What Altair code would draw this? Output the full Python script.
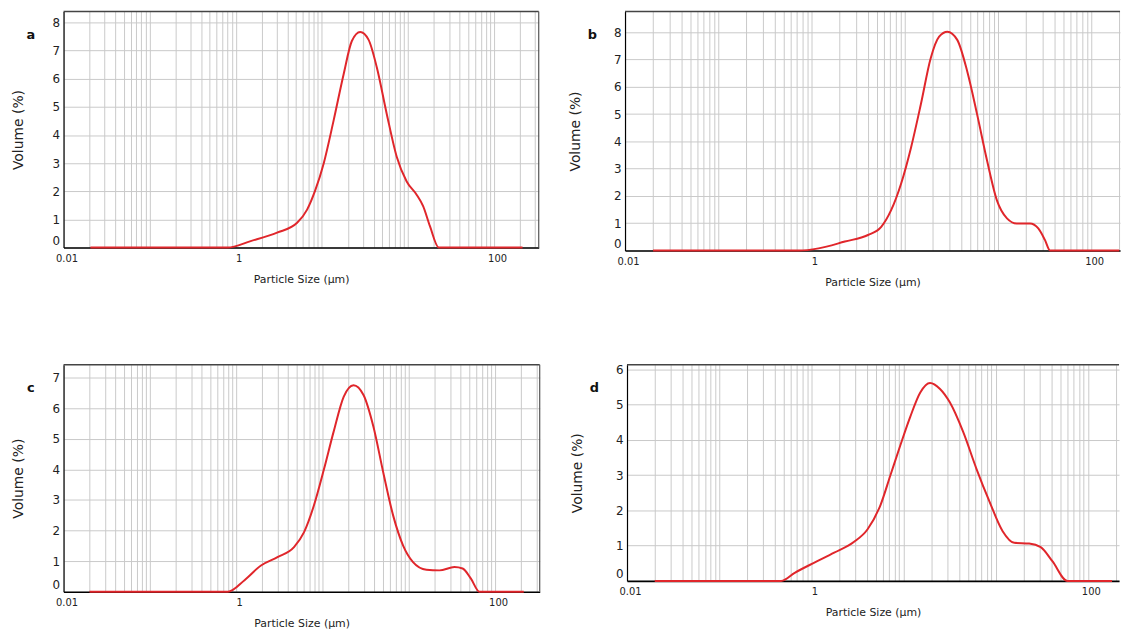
import altair as alt
import pandas as pd

# ---------------- data ----------------
panel_letters = ["a", "b", "c", "d"]

sizes_a = [0.0205, 0.80, 1.49, 3.02, 5.16, 6.74, 8.41, 10.5, 13.7, 17.9, 22.3, 27.9,
           34.8, 43.5, 56.7, 74.0, 96.6, 126, 150, 180, 228, 2140]
vol_a = [0, 0, 0.23, 0.53, 0.88, 1.35, 2.05, 2.99, 4.52, 6.16, 7.34, 7.66,
         7.39, 6.40, 4.75, 3.23, 2.35, 1.88, 1.47, 0.76, 0, 0]

sizes_b = [0.02, 0.73, 1.19, 2.28, 4.04, 5.60, 7.15, 9.14, 11.7, 14.9, 19.0, 23.4, 28.7,
           36.6, 46.8, 59.8, 76.4, 97.5, 125, 159, 221, 271, 319, 362, 2000]
vol_b = [0, 0, 0.08, 0.33, 0.57, 0.87, 1.48, 2.45, 3.78, 5.36, 7.05, 7.84, 8.02,
         7.72, 6.57, 4.99, 3.30, 1.84, 1.18, 0.99, 0.99, 0.81, 0.39, 0, 0]

sizes_c = [0.02, 0.80, 1.25, 1.94, 3.01, 4.68, 6.10, 7.94, 10.4, 13.5, 17.6, 22.9, 29.9,
           38.9, 50.7, 66.1, 86.0, 112, 160, 227, 338, 421, 525, 660, 2150]
vol_c = [0, 0, 0.38, 0.86, 1.13, 1.46, 1.94, 2.81, 4.0, 5.24, 6.37, 6.75, 6.43,
         5.40, 3.89, 2.48, 1.51, 0.97, 0.72, 0.70, 0.81, 0.76, 0.43, 0, 0]

sizes_d = [0.02, 0.47, 0.66, 1.08, 1.77, 2.91, 4.06, 5.64, 7.21, 9.24, 11.8, 15.2, 19.4,
           24.9, 31.8, 44.4, 61.7, 85.7, 119, 159, 231, 308, 412, 600, 1830]
vol_d = [0, 0, 0.23, 0.52, 0.80, 1.11, 1.46, 2.16, 3.0, 3.85, 4.65, 5.35, 5.62,
         5.45, 5.07, 4.23, 3.19, 2.25, 1.41, 1.08, 1.06, 0.96, 0.56, 0, 0]

# axis text as printed on the reference
x_tick_values = [0.01, 1, 1000]
x_tick_labels = ["0.01", "1", "100"]
x_title = "Particle Size (µm)"
y_title = "Volume (%)"

# per-panel axis extents
x_max = {"a": 3300, "b": 2040, "c": 3290, "d": 2180}
y_max = {"a": 8.39, "b": 8.76, "c": 7.42, "d": 6.14}
y_top_tick = {"a": 8, "b": 8, "c": 7, "d": 6}

# ---------------- styling / layout ----------------
LINE_COLOR = "#e0262b"
FONT = "DejaVu Sans"
sizes_w = {"a": 479, "b": 499, "c": 480, "d": 496}
sizes_h = {"a": 238, "b": 241, "c": 229, "d": 218}
title_pad = {"a": 27, "b": 31, "c": 27, "d": 31}
right_frame = {"a": True, "b": False, "c": True, "d": False}

label_expr = " : ".join(
    f"datum.value == {v} ? '{l}'" for v, l in zip(x_tick_values, x_tick_labels)
) + " : ''"

data = {
    "a": (sizes_a, vol_a),
    "b": (sizes_b, vol_b),
    "c": (sizes_c, vol_c),
    "d": (sizes_d, vol_d),
}


def panel(key):
    s, v = data[key]
    df = pd.DataFrame({"size": s, "vol": v})
    xm = x_max[key]
    grid_vals = [m * 10.0 ** e for e in range(-2, 4) for m in range(1, 10)
                 if m * 10.0 ** e <= xm]
    w, h = sizes_w[key], sizes_h[key]

    x = alt.X(
        "size:Q",
        scale=alt.Scale(type="log", domain=[0.01, xm], nice=False),
        axis=alt.Axis(
            values=grid_vals, labelExpr=label_expr, grid=True, ticks=False,
            labelOverlap=False, labelFlush=False, labelBound=False,
            labelOffset=3, labelPadding=6, titlePadding=10,
            domainColor="#000000", domainWidth=1.6,
            labelFontSize=10, title=x_title,
        ),
    )
    y = alt.Y(
        "vol:Q",
        scale=alt.Scale(domain=[0, y_max[key]], nice=False, zero=True),
        axis=alt.Axis(
            values=list(range(0, y_top_tick[key] + 1)), grid=True, ticks=False,
            labelPadding=4, titlePadding=title_pad[key], labelFontSize=12,
            labelFlush=True,
            titleFontSize=14, domainColor="#000000", domainWidth=1.2,
            title=y_title,
        ),
    )

    line = alt.Chart(df).mark_line(
        color=LINE_COLOR, strokeWidth=2, interpolate="monotone"
    ).encode(x=x, y=y)

    letter = alt.Chart(pd.DataFrame({"t": [key]})).mark_text(
        font=FONT, fontSize=13, fontWeight="bold", color="#111111", align="center"
    ).encode(x=alt.value(-33), y=alt.value(24), text="t:N")

    one = pd.DataFrame({"k": [0]})
    top = alt.Chart(one).mark_rule(color="#444444", strokeWidth=1.5).encode(
        x=alt.value(0), x2=alt.value(w), y=alt.value(0)
    )
    layers = [line, letter, top]
    if right_frame[key]:
        right = alt.Chart(one).mark_rule(color="#555555", strokeWidth=1.2).encode(
            x=alt.value(w), y=alt.value(0), y2=alt.value(h)
        )
        layers.append(right)

    return alt.layer(*layers).properties(width=w, height=h)


row1 = alt.hconcat(panel("a"), panel("b"), spacing=29)
row2 = alt.hconcat(panel("c"), panel("d"), spacing=30)

chart = (
    alt.vconcat(row1, row2, spacing=76)
    .properties(padding={"left": 3, "top": 0, "right": 0, "bottom": 0})
    .configure_view(stroke=None)
    .configure_axis(
        labelFont=FONT, titleFont=FONT, labelColor="#222222", titleColor="#222222",
        titleFontWeight="normal", titleFontSize=11,
        gridColor="#c9c9c9", gridWidth=1,
    )
)

chart.save("out.html", embed_options={"renderer": "svg", "actions": False})
